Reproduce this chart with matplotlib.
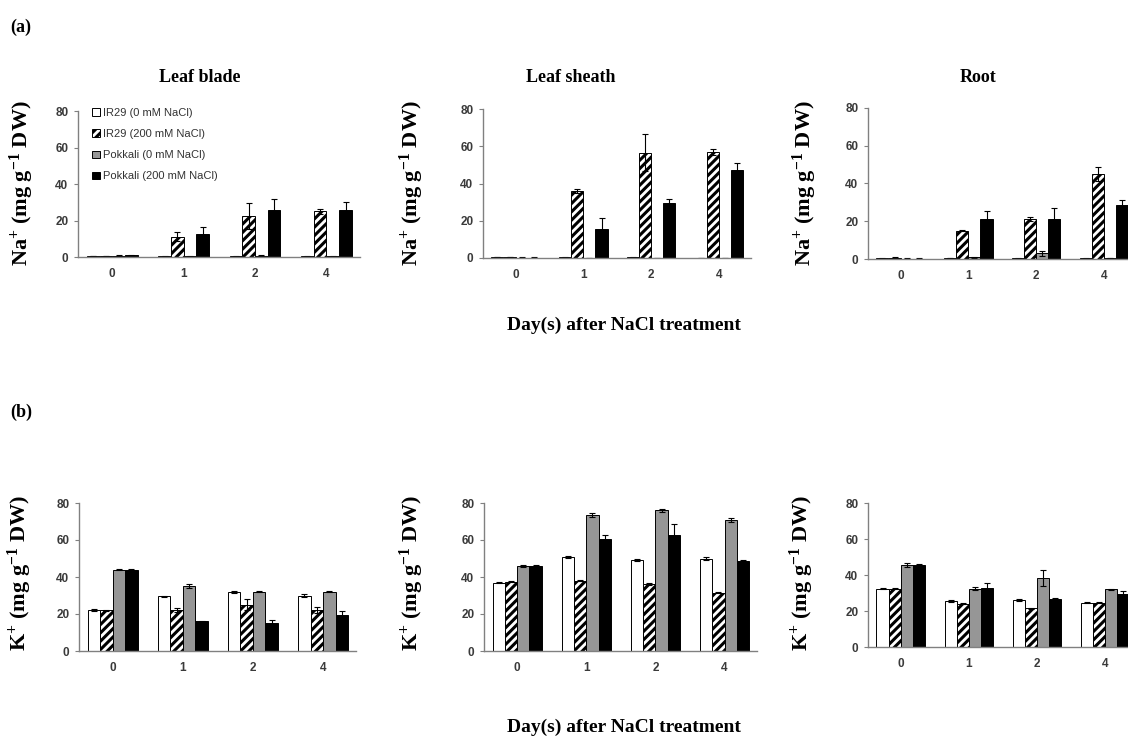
import numpy as np
import matplotlib
matplotlib.use("Agg")
import matplotlib.pyplot as plt

W, H, DPI = 1128, 738, 100

plt.rcParams['hatch.linewidth'] = 2.2
plt.rcParams['mathtext.fontset'] = 'custom'
plt.rcParams['mathtext.rm'] = 'Liberation Serif:bold'
plt.rcParams['mathtext.bf'] = 'Liberation Serif:bold'
plt.rcParams['mathtext.default'] = 'rm'

# ── Data ──────────────────────────────────────────────────────────────────────
days = ['0', '1', '2', '4']
series = ['IR29 (0 mM NaCl)', 'IR29 (200 mM NaCl)',
          'Pokkali (0 mM NaCl)', 'Pokkali (200 mM NaCl)']
tissues = ['Leaf blade', 'Leaf sheath', 'Root']

# rows = series (IR29 0, IR29 200, Pokkali 0, Pokkali 200), cols = days
na_blade = [[0.6, 0.3, 0.3, 0.3],
            [0.5, 11.0, 22.5, 25.0],
            [0.8, 0.3, 0.8, 0.3],
            [1.0, 12.5, 25.5, 26.0]]
na_blade_err = [[0.2, 0.1, 0.1, 0.1],
                [0.2, 2.5, 7.0, 1.5],
                [0.2, 0.1, 0.2, 0.1],
                [0.3, 3.8, 6.2, 4.2]]

na_sheath = [[0.4, 0.3, 0.3, 0.0],
             [0.6, 36.0, 56.5, 57.0],
             [0.2, 0.0, 0.0, 0.0],
             [0.2, 15.5, 29.5, 47.0]]
na_sheath_err = [[0.1, 0.1, 0.1, 0.0],
                 [0.2, 1.0, 10.0, 1.5],
                 [0.1, 0.0, 0.0, 0.0],
                 [0.1, 6.0, 2.0, 4.0]]

na_root = [[0.3, 0.5, 0.3, 0.3],
           [0.7, 15.0, 21.0, 45.0],
           [0.2, 0.8, 3.0, 0.5],
           [0.2, 21.0, 21.0, 28.5]]
na_root_err = [[0.1, 0.1, 0.1, 0.1],
               [0.1, 0.3, 1.0, 3.8],
               [0.1, 0.1, 1.5, 0.1],
               [0.1, 4.5, 6.0, 2.5]]

k_blade = [[22.0, 29.5, 32.0, 30.0],
           [22.0, 22.0, 25.0, 22.0],
           [44.0, 35.0, 32.0, 32.0],
           [44.0, 16.0, 15.0, 19.5]]
k_blade_err = [[0.6, 0.5, 0.7, 0.7],
               [0.3, 1.0, 3.0, 1.7],
               [0.3, 1.2, 0.3, 0.3],
               [0.2, 0.3, 1.5, 2.0]]

k_sheath = [[37.0, 51.0, 49.0, 50.0],
            [37.5, 38.0, 36.0, 31.5],
            [46.0, 73.5, 76.0, 71.0],
            [46.0, 60.5, 62.5, 48.5]]
k_sheath_err = [[0.3, 0.5, 0.5, 0.6],
                [0.3, 0.3, 0.5, 0.3],
                [0.6, 1.0, 0.7, 1.0],
                [0.6, 2.0, 6.0, 0.5]]

k_root = [[32.5, 25.5, 26.0, 24.5],
          [32.5, 24.0, 21.5, 24.5],
          [45.5, 32.5, 38.5, 32.0],
          [45.5, 33.0, 26.5, 29.5]]
k_root_err = [[0.3, 0.5, 0.5, 0.3],
              [0.3, 0.3, 0.3, 0.3],
              [1.0, 1.0, 4.5, 0.5],
              [0.8, 2.5, 1.0, 1.5]]

# ── Styling ──────────────────────────────────────────────────────────────────
SERIF = 'Liberation Serif'
SANS = 'Liberation Sans'
SPINE = '#808080'
TICKTXT = '#3a3a3a'
BAR_STYLES = [dict(facecolor='white', hatch=''),
              dict(facecolor='white', hatch='////'),
              dict(facecolor='#969696', hatch=''),
              dict(facecolor='black', hatch='')]
BW = 0.178
XLIM = (-0.48, 3.47)


def px_axes(fig, left, top, width, bottom):
    return fig.add_axes([left / W, 1 - bottom / H, width / W, (bottom - top) / H])


def draw_panel(ax, means, errs, legend=False):
    x = np.arange(len(days))
    for i, (m, e) in enumerate(zip(means, errs)):
        st = BAR_STYLES[i]
        ax.bar(x + (i - 1.5) * BW, m, BW, yerr=e,
               facecolor=st['facecolor'], hatch=st['hatch'],
               edgecolor='black', linewidth=0.7, label=series[i],
               error_kw=dict(ecolor='black', elinewidth=0.8, capsize=2.5,
                             capthick=0.8))
    ax.set_xlim(*XLIM)
    ax.set_ylim(0, 80)
    ax.set_yticks([0, 20, 40, 60, 80])
    ax.set_xticks(x)
    ax.set_xticklabels(days)
    for s in ('top', 'right'):
        ax.spines[s].set_visible(False)
    for s in ('left', 'bottom'):
        ax.spines[s].set_color(SPINE)
        ax.spines[s].set_linewidth(1.0)
    ax.tick_params(axis='y', length=3, width=0.8, color=SPINE, pad=4)
    ax.tick_params(axis='x', length=0, pad=8)
    for lab in ax.get_xticklabels() + ax.get_yticklabels():
        lab.set_fontfamily(SANS)
        lab.set_fontweight('bold')
        lab.set_fontsize(8.5)
        lab.set_color(TICKTXT)
    if legend:
        leg = ax.legend(loc='upper left', bbox_to_anchor=(0.035, 1.05),
                        frameon=False, handlelength=0.7, handleheight=0.7,
                        handletextpad=0.25, labelspacing=1.0,
                        borderaxespad=0, prop=dict(family=SANS, size=8))
        for t in leg.get_texts():
            t.set_color('#333333')


fig = plt.figure(figsize=(W / DPI, H / DPI), dpi=DPI)

# (left, top, width, bottom) in pixels
top_boxes = [(78, 111, 282, 257), (483, 109, 268, 258), (868, 108, 268, 259)]
bot_boxes = [(79, 503, 277, 651), (484, 503, 273, 651), (868, 503, 269, 647)]

na_data = [(na_blade, na_blade_err), (na_sheath, na_sheath_err), (na_root, na_root_err)]
k_data = [(k_blade, k_blade_err), (k_sheath, k_sheath_err), (k_root, k_root_err)]

for j, (box, (m, e)) in enumerate(zip(top_boxes, na_data)):
    ax = px_axes(fig, *box)
    draw_panel(ax, m, e, legend=(j == 0))

for box, (m, e) in zip(bot_boxes, k_data):
    ax = px_axes(fig, *box)
    draw_panel(ax, m, e)

# y labels
na_lab = r'Na$^{+}$ (mg g$^{-1}$ DW)'
k_lab = r'K$^{+}$ (mg g$^{-1}$ DW)'
for xc in (22, 412, 805):
    fig.text(xc / W, 1 - 183 / H, na_lab, rotation=90, ha='center', va='center',
             family=SERIF, weight='bold', fontsize=16)
for xc in (20, 412, 802):
    fig.text(xc / W, 1 - 573 / H, k_lab, rotation=90, ha='center', va='center',
             family=SERIF, weight='bold', fontsize=16)

# panel titles
for name, xc in zip(tissues, (200, 571, 978)):
    fig.text(xc / W, 1 - 77 / H, name, ha='center', va='center',
             family=SERIF, weight='bold', fontsize=13)

# panel letters
fig.text(10 / W, 1 - 27 / H, '(a)', ha='left', va='center',
         family=SERIF, weight='bold', fontsize=13)
fig.text(10 / W, 1 - 412 / H, '(b)', ha='left', va='center',
         family=SERIF, weight='bold', fontsize=13)

# shared x labels
for yc in (325, 727):
    fig.text(624 / W, 1 - yc / H, 'Day(s) after NaCl treatment', ha='center',
             va='center', family=SERIF, weight='bold', fontsize=14)

fig.savefig('out.png', dpi=DPI, facecolor='white')
